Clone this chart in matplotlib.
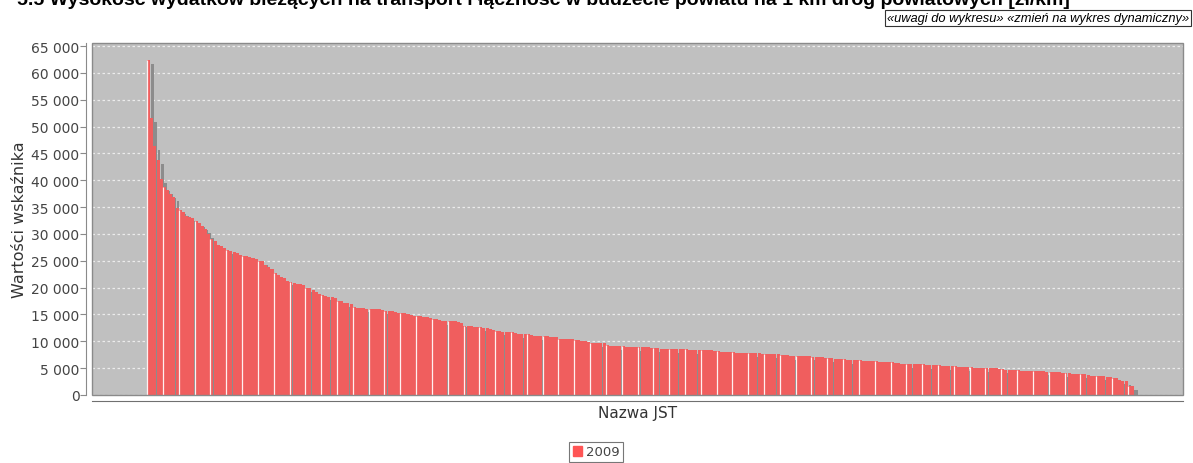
import matplotlib
matplotlib.use("Agg")
import matplotlib.pyplot as plt
from matplotlib.patches import Rectangle
import numpy as np

# values per powiat, sorted descending
values_2009 = [
    62400, 51600, 46400, 43800, 40200, 38800, 38200, 37400, 36800, 34900,
    34500, 34100, 33400, 33100, 32900, 32500, 32000, 31500, 30900, 30000,
    29100, 28700, 28000, 27700, 27300, 27000, 26800, 26600, 26400, 26100,
    25900, 25800, 25700, 25450, 25300, 25000, 24900, 24200, 23900, 23400,
    22800, 22400, 22000, 21700, 21300, 21000, 20800, 20700, 20600, 20400,
    20000, 19900, 19600, 19100, 18900, 18700, 18400, 18300, 18200, 18000,
    17600, 17500, 17200, 17100, 16900, 16300, 16200, 16200, 16200, 16100,
    16100, 16100, 16000, 16000, 15900, 15700, 15700, 15600, 15500, 15300,
    15300, 15200, 15100, 14900, 14800, 14800, 14700, 14600, 14500, 14300,
    14200, 14100, 13900, 13800, 13750, 13700, 13700, 13700, 13650, 13400,
    12900, 12800, 12800, 12700, 12700, 12600, 12450, 12400, 12200, 12100,
    12000, 11850, 11800, 11800, 11750, 11700, 11600, 11450, 11400, 11350,
    11300, 11200, 11050, 11000, 11000, 10950, 10900, 10850, 10850, 10800,
    10500, 10450, 10400, 10400, 10350, 10300, 10200, 10100, 10050, 9800,
    9750, 9700, 9700, 9650, 9600, 9300, 9200, 9200, 9150, 9150,
    9100, 9000, 8950, 8950, 8950, 8900, 8900, 8900, 8850, 8800,
    8700, 8700, 8650, 8650, 8600, 8600, 8550, 8500, 8500, 8500,
    8500, 8450, 8450, 8450, 8400, 8350, 8350, 8300, 8300, 8250,
    8150, 8100, 8050, 8050, 8000, 7950, 7900, 7900, 7850, 7850,
    7800, 7800, 7750, 7750, 7700, 7700, 7600, 7600, 7550, 7550,
    7500, 7400, 7400, 7350, 7350, 7300, 7250, 7250, 7250, 7200,
    7150, 7050, 7000, 7000, 6950, 6900, 6800, 6750, 6750, 6700,
    6700, 6600, 6550, 6550, 6500, 6500, 6400, 6400, 6350, 6350,
    6300, 6200, 6200, 6150, 6150, 6100, 5900, 5900, 5850, 5850,
    5800, 5770, 5770, 5750, 5750, 5700, 5650, 5640, 5620, 5600,
    5550, 5460, 5450, 5430, 5400, 5350, 5250, 5200, 5200, 5180,
    5150, 5100, 5080, 5070, 5050, 5030, 5000, 4980, 4950, 4850,
    4800, 4720, 4710, 4700, 4680, 4650, 4500, 4480, 4470, 4450,
    4430, 4410, 4400, 4380, 4350, 4250, 4230, 4220, 4200, 4180,
    4150, 4050, 4000, 3920, 3910, 3900, 3880, 3800, 3620, 3600,
    3580, 3550, 3500, 3350, 3300, 3170, 3100, 2850, 2650, 2600,
    1750, 1700,
]
series_label = "2009"
y_ticks = list(range(0, 65001, 5000))

title = ("5.5 Wysokość wydatków bieżących na transport i łączność w budżecie "
         "powiatu na 1 km dróg powiatowych [zł/km]")

fig = plt.figure(figsize=(11.93, 4.64), dpi=100)
ax = fig.add_axes([92 / 1193, 68 / 464, 1091 / 1193, 352 / 464])

x = np.arange(len(values_2009))
vals = np.array(values_2009)

# one data unit is about 3.16 px, shadow is offset ~4 px right and down
px_x = 1.0 / 3.163
px_y = 65560 / 352.0
ax.set_facecolor("#c0c0c0")
ax.bar(x + 4 * px_x, np.clip(vals - 4 * px_y, 0, None), width=0.9,
       color="#8c8c8c", linewidth=0, zorder=2)
ax.bar(x, vals, width=0.96, color="#f05e5e", linewidth=0, zorder=3)
# light seams the original renderer leaves every few bars
seam = x[::5]
ax.vlines(seam - 0.45, 0, vals[::5], color="#fff0f0", lw=0.9, zorder=4)

ax.set_xlim(-17.9, 327)
ax.set_ylim(0, 65560)
ax.set_yticks(y_ticks)
ax.set_yticklabels([f"{t:,}".replace(",", " ") for t in y_ticks])
ax.set_xticks([])
ax.yaxis.grid(True, color="#ececec", linestyle=(0, (2, 2)), lw=0.9, zorder=1)
ax.set_axisbelow(True)

for s in ["top", "right"]:
    ax.spines[s].set_visible(False)
ax.spines["left"].set_position(("outward", 4))
ax.spines["bottom"].set_position(("outward", 4))
ax.spines["left"].set_color("#8a8a8a")
ax.spines["bottom"].set_color("#707070")
ax.tick_params(axis="y", length=4, color="#8a8a8a", labelcolor="#444444",
               labelsize=10, pad=1)
# plot border
ax.add_patch(Rectangle((0, 0), 1, 1, transform=ax.transAxes, fill=False,
                       edgecolor="#8a8a8a", lw=1, zorder=5, clip_on=False))

ax.set_ylabel("Wartości wskaźnika", fontsize=11.5, color="#333333", labelpad=3)
ax.set_xlabel("Nazwa JST", fontsize=11, color="#333333", labelpad=3)

fig.text(17 / 1193, 1 - 5 / 464, title, fontsize=14, fontweight="bold",
         family="Liberation Sans", va="baseline", ha="left")

fig.text(887 / 1193, 1 - 19 / 464,
         "«uwagi do wykresu» «zmień na wykres dynamiczny»",
         fontsize=9.3, style="italic", family="Liberation Sans",
         va="center", ha="left",
         bbox=dict(boxstyle="square,pad=0.12", fc="white", ec="#333333", lw=0.8))

# legend
handle = Rectangle((0, 0), 1, 1, color="#ff5555")
leg = fig.legend([handle], [series_label], loc="center",
                 bbox_to_anchor=(596 / 1193, 1 - 453 / 464), frameon=True,
                 fontsize=9.5, handlelength=0.7, handleheight=0.7,
                 handletextpad=0.3, borderpad=0.3, fancybox=False)
leg.get_frame().set_edgecolor("#555555")
leg.get_frame().set_linewidth(0.8)
for t in leg.get_texts():
    t.set_color("#444444")

fig.savefig("out.png", dpi=100)
